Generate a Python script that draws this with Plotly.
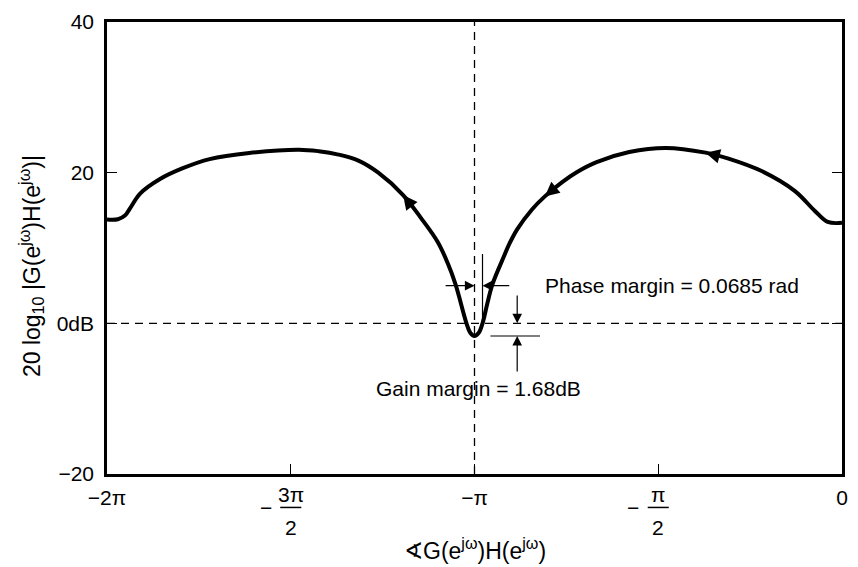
import math
import plotly.graph_objects as go

# Open-loop frequency response G(e^jw)H(e^jw), traced from w = 0 (phase 0) to w = pi (phase -2pi)
phase_rad = [0.000, -0.122, -0.232, -0.402, -0.682, -0.970, -1.166, -1.505, -1.819, -2.098,
             -2.268, -2.395, -2.540, -2.650, -2.777, -2.845, -2.887, -2.989, -3.031, -3.073,
             -3.105, -3.142, -3.178, -3.210, -3.303, -3.371, -3.456, -3.600, -3.752, -3.964,
             -4.134, -4.304, -4.473, -4.643, -5.067, -5.406, -5.635, -5.830, -6.000, -6.085,
             -6.130, -6.190, -6.283]
mag_db = [13.34, 13.46, 14.92, 17.56, 20.18, 21.87, 22.66, 23.29, 22.74, 21.40,
          20.06, 18.72, 16.85, 15.12, 12.47, 10.50, 9.00, 5.15, 2.70, 0.00,
          -1.25, -1.68, -1.25, 0.00, 5.14, 8.00, 10.80, 14.00, 17.03, 20.00,
          21.60, 22.40, 22.85, 23.05, 22.62, 21.80, 20.59, 19.15, 17.22, 15.30,
          14.30, 13.82, 13.78]

# Stability margins
PHASE_MARGIN = 0.0685   # rad
GAIN_MARGIN_DB = 1.68   # dB

# Axis ticks
x_tickvals = [-2 * math.pi, -1.5 * math.pi, -math.pi, -0.5 * math.pi, 0.0]
x_ticktext = ["\u22122\u03c0", "", "\u2212\u03c0", "", "0"]
frac_ticks = [(-1.5 * math.pi, "3\u03c0", "2"), (-0.5 * math.pi, "\u03c0", "2")]
y_tickvals = [-20, 0, 20, 40]
y_ticktext = ["\u221220", "0dB", "20", "40"]

# Indices of curve points carrying direction arrows
arrow_idx = [6, 12, 28]

FONT = "Liberation Sans, Arial, Helvetica, sans-serif"
TXT = dict(family=FONT, size=21, color="black")
TITLE = dict(family=FONT, size=23, color="black")

fig = go.Figure()
fig.add_trace(go.Scatter(
    x=phase_rad, y=mag_db, mode="lines",
    line=dict(color="black", width=4, shape="spline", smoothing=1.0),
    hoverinfo="skip", showlegend=False))

annotations = []
shapes = []

# Direction arrows along the locus
for i in arrow_idx:
    hx, hy = phase_rad[i], mag_db[i]
    tx = hx + 0.35 * (phase_rad[i - 1] - hx)
    ty = hy + 0.35 * (mag_db[i - 1] - hy)
    annotations.append(dict(x=hx, y=hy, ax=tx, ay=ty, xref="x", yref="y",
                            axref="x", ayref="y", text="", showarrow=True,
                            arrowhead=2, arrowsize=1.1, arrowwidth=2.6,
                            arrowcolor="black", standoff=0))

# Dashed reference lines: -pi and 0 dB
shapes.append(dict(type="line", xref="x", yref="paper", x0=-math.pi, x1=-math.pi, y0=0, y1=1,
                   line=dict(color="black", width=1.3, dash="8px,6px")))
shapes.append(dict(type="line", xref="paper", yref="y", x0=0, x1=1, y0=0, y1=0,
                   line=dict(color="black", width=1.3, dash="8px,6px")))

# Phase margin dimension
pm_x = -math.pi + PHASE_MARGIN
pm_y = 5.0
shapes.append(dict(type="line", xref="x", yref="y", x0=pm_x, x1=pm_x, y0=0, y1=9.2,
                   line=dict(color="black", width=1.2)))
for head, tail in [(-math.pi, -math.pi - 0.26), (pm_x, -math.pi + 0.31)]:
    annotations.append(dict(x=head, y=pm_y, ax=tail, ay=pm_y, xref="x", yref="y",
                            axref="x", ayref="y", text="", showarrow=True,
                            arrowhead=2, arrowsize=1.6, arrowwidth=1.2,
                            arrowcolor="black", standoff=0))
annotations.append(dict(x=-math.pi + 0.585, y=pm_y, xref="x", yref="y",
                        text="Phase margin = %.4f rad" % PHASE_MARGIN,
                        showarrow=False, xanchor="left", yanchor="middle", font=TXT))

# Gain margin dimension
gm_x = -math.pi + 0.365
shapes.append(dict(type="line", xref="x", yref="y", x0=-math.pi + 0.136, x1=-math.pi + 0.56,
                   y0=-GAIN_MARGIN_DB, y1=-GAIN_MARGIN_DB, line=dict(color="black", width=1.2)))
annotations.append(dict(x=gm_x, y=0, ax=gm_x, ay=3.9, xref="x", yref="y",
                        axref="x", ayref="y", text="", showarrow=True,
                        arrowhead=2, arrowsize=1.6, arrowwidth=1.2,
                        arrowcolor="black", standoff=0))
annotations.append(dict(x=gm_x, y=-GAIN_MARGIN_DB, ax=gm_x, ay=-6.6, xref="x", yref="y",
                        axref="x", ayref="y", text="", showarrow=True,
                        arrowhead=2, arrowsize=1.6, arrowwidth=1.2,
                        arrowcolor="black", standoff=0))
annotations.append(dict(x=-math.pi + 0.03, y=-8.6, xref="x", yref="y",
                        text="Gain margin = %.2fdB" % GAIN_MARGIN_DB,
                        showarrow=False, xanchor="center", yanchor="middle", font=TXT))

# Fractional tick labels (-3pi/2, -pi/2)
for xv, num, den in frac_ticks:
    annotations.append(dict(x=xv, y=-0.046, xref="x", yref="paper", text=num,
                            showarrow=False, xanchor="center", yanchor="middle", font=TXT))
    annotations.append(dict(x=xv, y=-0.118, xref="x", yref="paper", text=den,
                            showarrow=False, xanchor="center", yanchor="middle", font=TXT))
    annotations.append(dict(x=xv, y=-0.074, xref="x", yref="paper", text="\u2212",
                            xshift=-25, showarrow=False, xanchor="center", yanchor="middle",
                            font=TXT))
    shapes.append(dict(type="line", xref="x", yref="paper", x0=xv - 0.09, x1=xv + 0.09,
                       y0=-0.074, y1=-0.074, line=dict(color="black", width=1.5)))

# Axis titles
annotations.append(dict(x=0, y=0.46, xref="paper", yref="paper", xshift=-76,
                        text="20 log<sub>10</sub> |G(e<sup>j\u03c9</sup>)H(e<sup>j\u03c9</sup>)|",
                        textangle=-90, showarrow=False, xanchor="center", yanchor="middle",
                        font=TITLE))
annotations.append(dict(x=0.5, y=-0.167, xref="paper", yref="paper",
                        text="\u2222G(e<sup>j\u03c9</sup>)H(e<sup>j\u03c9</sup>)",
                        showarrow=False, xanchor="center", yanchor="middle", font=TITLE))

fig.update_layout(
    width=858, height=567,
    margin=dict(l=107, r=10, t=20, b=93),
    paper_bgcolor="white", plot_bgcolor="white",
    font=TXT,
    annotations=annotations, shapes=shapes,
    xaxis=dict(range=[-2 * math.pi, 0], tickmode="array", tickvals=x_tickvals,
               ticktext=x_ticktext, ticks="inside", ticklen=10, tickwidth=1.2,
               tickcolor="black", showgrid=False, zeroline=False, showline=True,
               linecolor="black", linewidth=2.5, mirror=True, tickfont=TXT,
               ticklabelstandoff=3),
    yaxis=dict(range=[-20, 40], tickmode="array", tickvals=y_tickvals,
               ticktext=y_ticktext, ticks="inside", ticklen=10, tickwidth=1.2,
               tickcolor="black", showgrid=False, zeroline=False, showline=True,
               linecolor="black", linewidth=2.5, mirror="ticks", tickfont=TXT,
               ticklabelstandoff=6),
)

fig.write_html("out.html")
